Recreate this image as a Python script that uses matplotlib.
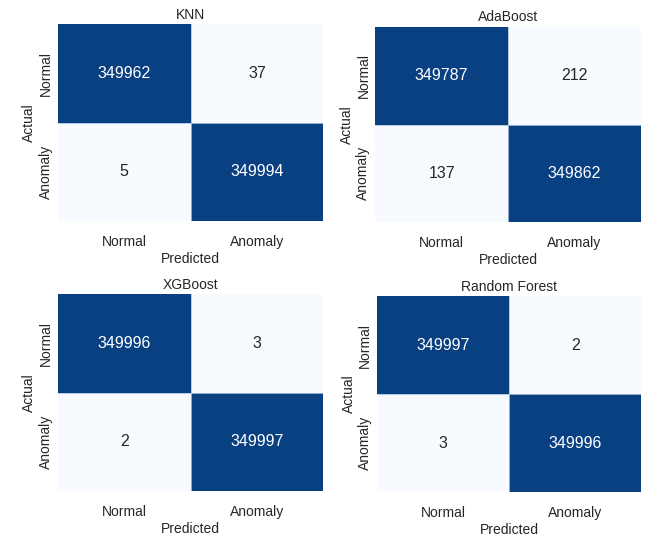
import matplotlib
matplotlib.use("Agg")
import matplotlib.pyplot as plt
from matplotlib.colors import LinearSegmentedColormap
import seaborn as sns
import numpy as np

sns.set_theme(style="white")
plt.rcParams['font.family'] = ['Liberation Sans', 'DejaVu Sans']

labels = ["Normal", "Anomaly"]
models = ["KNN", "AdaBoost", "XGBoost", "Random Forest"]
knn = [[349962, 37], [5, 349994]]
adaboost = [[349787, 212], [137, 349862]]
xgboost = [[349996, 3], [2, 349997]]
random_forest = [[349997, 2], [3, 349996]]
matrices = [knn, adaboost, xgboost, random_forest]

blues = plt.get_cmap("Blues")
cmap = LinearSegmentedColormap.from_list("blues_t", blues(np.linspace(0, 0.94, 256)))

fig = plt.figure(figsize=(6.47, 5.38), dpi=100)
positions = [
    [0.0896, 0.589, 0.410, 0.366],
    [0.580, 0.587, 0.410, 0.363],
    [0.0896, 0.0874, 0.410, 0.366],
    [0.583, 0.0855, 0.408, 0.364],
]

for name, cm, pos in zip(models, matrices, positions):
    ax = fig.add_axes(pos)
    sns.heatmap(np.array(cm), annot=True, fmt="d", cmap=cmap, cbar=False,
                xticklabels=labels, yticklabels=labels, ax=ax,
                annot_kws={"size": 11.5})
    ax.axhline(1, color="#a9c1dc", lw=0.6)
    ax.axvline(1, color="#a9c1dc", lw=0.6)
    ax.set_title(name, fontsize=10, color="#262626", pad=4)
    ax.set_xlabel("Predicted", fontsize=10, color="#262626", labelpad=2)
    ax.set_ylabel("Actual", fontsize=10, color="#262626", labelpad=2)
    ax.tick_params(axis="both", labelsize=10, colors="#262626", length=0)
    plt.setp(ax.get_yticklabels(), rotation=90, va="center")
    plt.setp(ax.get_xticklabels(), rotation=0)
    ax.tick_params(axis="x", pad=10)

fig.savefig("out.png", dpi=100)
